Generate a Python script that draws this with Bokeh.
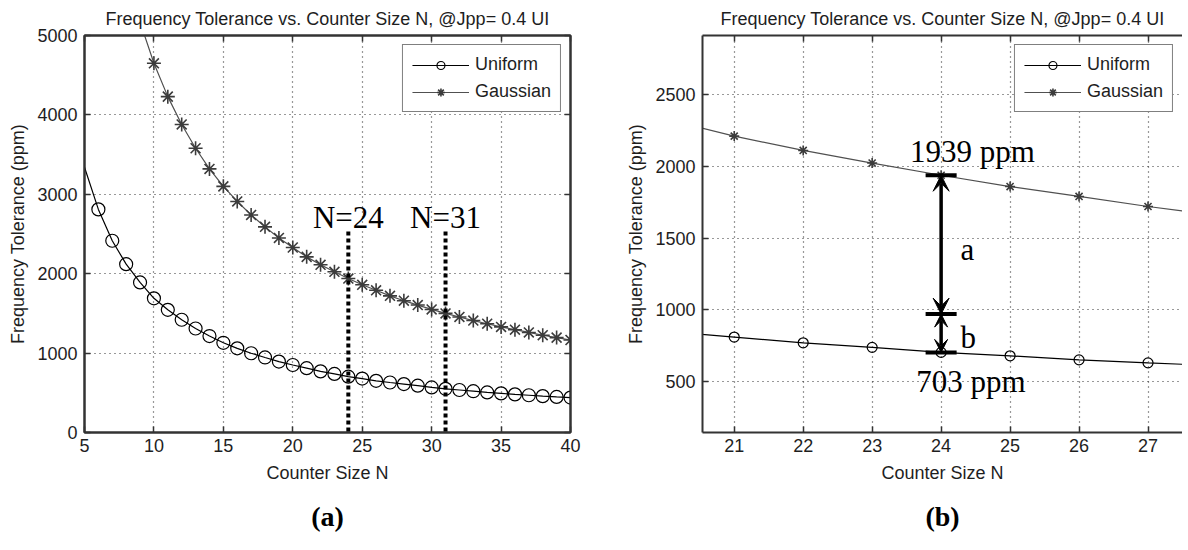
from bokeh.plotting import figure
from bokeh.models import (Range1d, FixedTicker, LinearAxis, Legend, LegendItem,
                          Label, Arrow, VeeHead, Title)
from bokeh.layouts import row
from bokeh.embed import file_html
from bokeh.resources import INLINE

# ---------------- data ----------------
counter_size = list(range(5, 41))
uniform_ppm = [3340, 2810, 2415, 2120, 1890, 1690, 1545, 1420, 1310, 1215,
               1130, 1060, 998, 945, 893, 850, 810, 770, 738, 703,
               679, 651, 630, 610, 590, 568, 550, 535, 520, 505,
               493, 480, 469, 458, 448, 440]
gaussian_ppm = [9300, 7750, 6640, 5810, 5170, 4650, 4230, 3880, 3580, 3320,
                3100, 2910, 2740, 2590, 2450, 2330, 2212, 2112, 2024, 1939,
                1860, 1791, 1721, 1660, 1605, 1550, 1500, 1455, 1410, 1370,
                1330, 1295, 1260, 1225, 1195, 1165]
series_names = ["Uniform", "Gaussian"]
marked_n = [24, 31]
marked_labels = ["N=24", "N=31"]
zoom_n = 24
bound_values = [1939, 970, 703]
bound_labels = ["1939 ppm", "703 ppm"]
gap_labels = ["a", "b"]
panel_labels = ["(a)", "(b)"]
title_text = "Frequency Tolerance vs. Counter Size N, @Jpp= 0.4 UI"
x_label = "Counter Size N"
y_label = "Frequency Tolerance (ppm)"
xticks_a = [5, 10, 15, 20, 25, 30, 35, 40]
yticks_a = [0, 1000, 2000, 3000, 4000, 5000]
xticks_b = [21, 22, 23, 24, 25, 26, 27]
yticks_b = [500, 1000, 1500, 2000, 2500]

SANS = "Liberation Sans"
SERIF = "Liberation Serif"
AX = "#333333"
TXT = "#1e1e1e"
GCOL = "#505050"


def style(p, xticks, yticks, top_right=True):
    p.title.text = title_text
    p.title.align = "center"
    p.title.text_font = SANS
    p.title.text_font_size = "18px"
    p.title.text_font_style = "normal"
    p.title.text_color = TXT
    p.title.standoff = 13
    for ax in p.xaxis + p.yaxis:
        ax.major_tick_in = 6
        ax.major_tick_out = 0
        ax.minor_tick_line_color = None
        ax.axis_line_color = AX
        ax.axis_line_width = 2
        ax.major_tick_line_color = AX
        ax.major_tick_line_width = 1.5
        ax.major_label_text_font = SANS
        ax.major_label_text_font_size = "18px"
        ax.major_label_text_color = TXT
        ax.axis_label_text_font = SANS
        ax.axis_label_text_font_size = "18px"
        ax.axis_label_text_font_style = "normal"
        ax.axis_label_text_color = TXT
    p.xaxis.ticker = FixedTicker(ticks=xticks)
    p.yaxis.ticker = FixedTicker(ticks=yticks)
    p.xaxis.axis_label = x_label
    p.yaxis.axis_label = y_label
    p.xaxis.major_label_standoff = 6
    p.xaxis.axis_label_standoff = 8
    p.yaxis.major_label_standoff = 7
    p.yaxis.axis_label_standoff = 6
    for g in (p.xgrid, p.ygrid):
        g.grid_line_color = "#333333"
        g.grid_line_dash = "1 4"
        g.grid_line_width = 1.2
    p.xgrid.ticker = FixedTicker(ticks=xticks)
    p.ygrid.ticker = FixedTicker(ticks=yticks)
    extra = [("above", xticks)]
    if top_right:
        extra.append(("right", yticks))
    for side, tk in extra:
        ax = LinearAxis(ticker=FixedTicker(ticks=tk))
        ax.major_label_overrides = {t: "" for t in tk}
        ax.major_label_text_color = None
        ax.major_label_standoff = 0
        ax.major_tick_in = 6
        ax.major_tick_out = 0
        ax.minor_tick_line_color = None
        ax.axis_line_color = AX
        ax.axis_line_width = 2
        ax.major_tick_line_color = AX
        ax.major_tick_line_width = 1.5
        p.add_layout(ax, side)
    p.background_fill_color = "white"
    p.border_fill_color = "white"


def add_panel_label(p, text):
    t = Title(text=text, align="center", text_font=SERIF,
              text_font_size="28px", text_font_style="bold",
              text_color="black", standoff=26)
    p.add_layout(t, "below")


def add_series(p, circ_size, star_size, legend_margin):
    xs = counter_size
    l1 = p.line(xs, uniform_ppm, line_color="black", line_width=1.2)
    s1 = p.scatter(xs[1:], uniform_ppm[1:], marker="circle", size=circ_size,
                   fill_color=None, line_color="black", line_width=1.2)
    l2 = p.line(xs, gaussian_ppm, line_color=GCOL, line_width=1.2)
    s2 = p.scatter(xs[1:], gaussian_ppm[1:], marker="asterisk", size=star_size,
                   line_color="#3c3c3c", line_width=1.6)
    leg = Legend(items=[LegendItem(label=series_names[0], renderers=[l1, s1]),
                        LegendItem(label=series_names[1], renderers=[l2, s2])],
                 location="top_right")
    leg.margin = legend_margin
    leg.padding = 9
    leg.spacing = 6
    leg.glyph_width = 57
    leg.glyph_height = 20
    leg.label_height = 20
    leg.label_standoff = 6
    leg.label_text_font = SANS
    leg.label_text_font_size = "18px"
    leg.label_text_color = TXT
    leg.border_line_color = "black"
    leg.border_line_width = 1.5
    leg.background_fill_color = "white"
    leg.background_fill_alpha = 1
    p.add_layout(leg)


def serif_label(p, x, y, text, size="31px", align="left"):
    p.add_layout(Label(x=x, y=y, text=text, text_align=align,
                       text_baseline="alphabetic", text_font=SERIF,
                       text_font_size=size, text_color="black",
                       level="overlay"))


# ---------------- panel (a) ----------------
pa = figure(output_backend="svg", toolbar_location=None,
            frame_width=486, frame_height=397,
            x_range=Range1d(5, 40), y_range=Range1d(0, 5000),
            min_border_left=84, min_border_right=28,
            min_border_top=32, min_border_bottom=60)
style(pa, xticks_a, yticks_a)
pa.outline_line_color = AX
pa.outline_line_width = 2
add_series(pa, 13, 14, 9)
add_panel_label(pa, panel_labels[0])

for n, lab in zip(marked_n, marked_labels):
    pa.add_layout(Arrow(end=None, x_start=n, y_start=2530, x_end=n, y_end=-320,
                        line_color="black", line_width=4, line_dash="4 3",
                        level="overlay"))
    serif_label(pa, n, 2710, lab, align="center")

# ---------------- panel (b) ----------------
pb = figure(output_backend="svg", toolbar_location=None,
            frame_width=480, frame_height=397,
            x_range=Range1d(20.54, 27.50), y_range=Range1d(144, 2914),
            min_border_left=104, min_border_right=0,
            min_border_top=32, min_border_bottom=60)
style(pb, xticks_b, yticks_b, top_right=False)
pb.outline_line_color = None
add_series(pb, 10, 10, 9)
add_panel_label(pb, panel_labels[1])

half = 0.225
pb.segment(x0=[zoom_n - half] * 3, y0=bound_values,
           x1=[zoom_n + half] * 3, y1=bound_values,
           line_color="black", line_width=4)
pb.add_layout(Arrow(start=VeeHead(size=16, fill_color="black", line_color="black"),
                    end=VeeHead(size=16, fill_color="black", line_color="black"),
                    x_start=zoom_n, y_start=bound_values[0],
                    x_end=zoom_n, y_end=bound_values[1],
                    line_color="black", line_width=3.5))
pb.add_layout(Arrow(start=VeeHead(size=13, fill_color="black", line_color="black"),
                    end=VeeHead(size=13, fill_color="black", line_color="black"),
                    x_start=zoom_n, y_start=bound_values[1],
                    x_end=zoom_n, y_end=bound_values[2],
                    line_color="black", line_width=3.5))
serif_label(pb, 23.55, 2105, bound_labels[0])
serif_label(pb, 23.64, 502, bound_labels[1])
serif_label(pb, 24.28, 1420, gap_labels[0])
serif_label(pb, 24.28, 805, gap_labels[1])

layout = row(pa, pb)
open("out.html", "w").write(file_html(layout, INLINE))
